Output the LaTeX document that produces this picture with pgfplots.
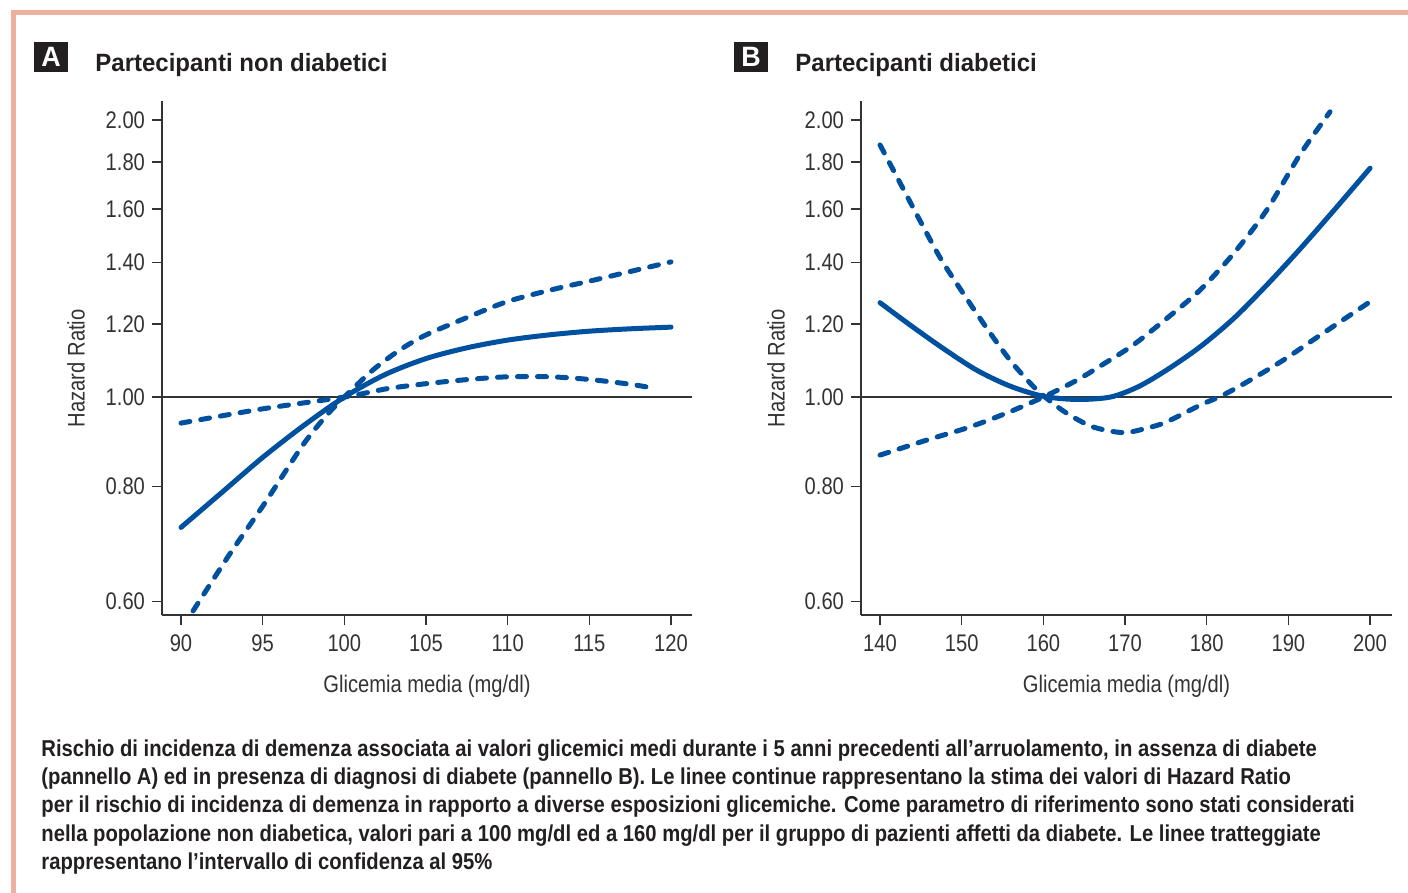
\documentclass[border=0pt]{standalone}
\usepackage{fontspec}
\setmainfont{Liberation Sans}[FakeStretch=0.92]
\newfontfamily\tickfont{Liberation Sans}[FakeStretch=0.84]
\newfontfamily\titlefont{Liberation Sans}[FakeStretch=0.96]
\newfontfamily\capfont{Liberation Sans}[FakeStretch=0.88]
\usepackage{pgfplots}
\pgfplotsset{compat=1.18}
\definecolor{curve}{RGB}{0,80,160}
\definecolor{framec}{RGB}{236,176,158}
\definecolor{axgray}{RGB}{51,51,51}
\definecolor{txt}{RGB}{35,31,32}
\tikzset{
  solidc/.style={curve, line width=2.5pt, smooth, line cap=round},
  dashc/.style={curve, line width=2.5pt, smooth, line cap=round, dash pattern=on 4.5pt off 5.5pt},
  refl/.style={axgray, line width=0.75pt},
}
\begin{document}
\begin{tikzpicture}
\useasboundingbox (0,0) rectangle (704pt,-446.5pt);
% frame
\draw[framec, line width=2.5pt] (5.25pt,-6.5pt) -- (704pt,-6.5pt);
\draw[framec, line width=2.5pt] (6.5pt,-5.25pt) -- (6.5pt,-446.5pt);
% titles
\fill[txt] (17pt,-21pt) rectangle (34pt,-36pt);
\node[text=white, font=\titlefont\bfseries\fontsize{14}{16}\selectfont] at (25.5pt,-28.5pt) {A};
\node[anchor=base west, inner sep=0pt, text=txt, font=\titlefont\bfseries\fontsize{12.5}{15}\selectfont] at (47.5pt,-36pt) {Partecipanti non diabetici};
\fill[txt] (367pt,-21pt) rectangle (384pt,-36pt);
\node[text=white, font=\titlefont\bfseries\fontsize{14}{16}\selectfont] at (375.5pt,-28.5pt) {B};
\node[anchor=base west, inner sep=0pt, text=txt, font=\titlefont\bfseries\fontsize{12.5}{15}\selectfont] at (397.5pt,-36pt) {Partecipanti diabetici};

% Panel A
\begin{axis}[
  ymode=log, scale only axis,
  at={(81pt,-307.5pt)}, anchor=south west, width=265pt, height=257pt,
  axis x line*=bottom, axis y line*=left,
  axis line style={axgray, line width=0.75pt, -},
  tick align=outside, major tick length=5pt,
  tick style={axgray, line width=0.75pt},
  xminorticks=false, yminorticks=false,
  ymin=0.58, ymax=2.096,
  ytick={0.6,0.8,1,1.2,1.4,1.6,1.8,2},
  yticklabels={0.60,0.80,1.00,1.20,1.40,1.60,1.80,2.00},
  ticklabel style={font=\tickfont\fontsize{12}{14}\selectfont, text=axgray},
  xticklabel style={yshift=-1.5pt},
  label style={font=\tickfont\fontsize{12}{14}\selectfont, text=axgray},
  /pgf/number format/assume math mode=true,
  xlabel={Glicemia media (mg/dl)},
  ylabel={Hazard Ratio},
  xlabel style={at={(axis description cs:0.5,-0.138)}, anchor=center},
  xmin=88.837, xmax=121.286,
  xtick={90,95,100,105,110,115,120},
  xticklabels={90,95,100,105,110,115,120},
  ylabel style={at={(axis description cs:-0.162,0.48)}, anchor=center},
]
\addplot[refl, mark=none] coordinates {(88.837,1) (121.286,1)};
\addplot[solidc, mark=none] coordinates {
(90,0.722) (92.5,0.788) (95,0.860) (97.5,0.931) (100,1.0) (102.5,1.058) (105,1.101)
(107.5,1.131) (110,1.153) (112.5,1.168) (115,1.179) (117.5,1.186) (120,1.191)};
\addplot[dashc, mark=none] coordinates {
(90.74,0.586) (92.95,0.674) (95.06,0.764) (97.5,0.889) (99,0.959) (100,1.0) (101.75,1.07)
(103.4,1.125) (105,1.168) (107.66,1.223) (110,1.27) (112.8,1.309) (115,1.336) (117.6,1.37) (120,1.402)};
\addplot[dashc, mark=none] coordinates {
(90,0.937) (95,0.971) (100,1.0) (102.6,1.021) (105,1.034) (107.6,1.045) (110,1.052)
(112.6,1.052) (115,1.045) (117.6,1.032) (119.1,1.021)};
\end{axis}

% Panel B
\begin{axis}[
  ymode=log, scale only axis,
  at={(430.5pt,-307.5pt)}, anchor=south west, width=265.5pt, height=257pt,
  axis x line*=bottom, axis y line*=left,
  axis line style={axgray, line width=0.75pt, -},
  tick align=outside, major tick length=5pt,
  tick style={axgray, line width=0.75pt},
  xminorticks=false, yminorticks=false,
  ymin=0.58, ymax=2.096,
  ytick={0.6,0.8,1,1.2,1.4,1.6,1.8,2},
  yticklabels={0.60,0.80,1.00,1.20,1.40,1.60,1.80,2.00},
  ticklabel style={font=\tickfont\fontsize{12}{14}\selectfont, text=axgray},
  xticklabel style={yshift=-1.5pt},
  label style={font=\tickfont\fontsize{12}{14}\selectfont, text=axgray},
  /pgf/number format/assume math mode=true,
  xlabel={Glicemia media (mg/dl)},
  ylabel={Hazard Ratio},
  xlabel style={at={(axis description cs:0.5,-0.138)}, anchor=center},
  xmin=137.67, xmax=202.69,
  xtick={140,150,160,170,180,190,200},
  xticklabels={140,150,160,170,180,190,200},
  ylabel style={at={(axis description cs:-0.160,0.48)}, anchor=center},
]
\addplot[refl, mark=none] coordinates {(137.67,1) (202.69,1)};
\addplot[solidc, mark=none] coordinates {
(140,1.266) (143.7,1.197) (147.75,1.129) (151.8,1.07) (155.9,1.028) (160,1.002)
(164.1,0.994) (168.2,1.0) (171.6,1.026) (175.1,1.07) (179.2,1.134) (183.3,1.217)
(187.35,1.323) (191.4,1.447) (195.5,1.592) (200,1.772)};
\addplot[dashc, mark=none] coordinates {
(140,1.878) (142.5,1.705) (145.1,1.542) (147.6,1.405) (151,1.264) (153.5,1.173)
(155.9,1.097) (158.4,1.035) (160.2,1.0) (162.9,0.96) (166.1,0.928) (169.8,0.915)
(172.8,0.926) (175.1,0.94) (179.2,0.98) (182,1.005) (185.3,1.043) (189.4,1.097)
(193.5,1.161) (197.6,1.228) (200,1.269)};
\addplot[dashc, mark=none] coordinates {
(140,0.865) (145.7,0.898) (151,0.928) (155.9,0.964) (160,1.0) (164.1,1.043)
(167.5,1.088) (171,1.139) (175.1,1.217) (179.2,1.307) (183.3,1.432) (187.35,1.596)
(191.4,1.832) (195.1,2.04)};
\end{axis}

% caption
\begin{scope}[every node/.style={anchor=base west, text=txt, inner sep=0pt, font=\capfont\bfseries\fontsize{11.5}{14}\selectfont}]
\node at (20.5pt,-378pt) {Rischio di incidenza di demenza associata ai valori glicemici medi durante i 5 anni precedenti all’arruolamento, in assenza di diabete};
\node at (20.5pt,-392pt) {(pannello A) ed in presenza di diagnosi di diabete (pannello B). Le linee continue rappresentano la stima dei valori di Hazard Ratio};
\node at (20.5pt,-406.25pt) {per il rischio di incidenza di demenza in rapporto a diverse esposizioni glicemiche. Come parametro di riferimento sono stati considerati};
\node at (20.5pt,-420.5pt) {nella popolazione non diabetica, valori pari a 100 mg/dl ed a 160 mg/dl per il gruppo di pazienti affetti da diabete. Le linee tratteggiate};
\node at (20.5pt,-434.5pt) {rappresentano l’intervallo di confidenza al 95\%};
\end{scope}
\end{tikzpicture}
\end{document}
